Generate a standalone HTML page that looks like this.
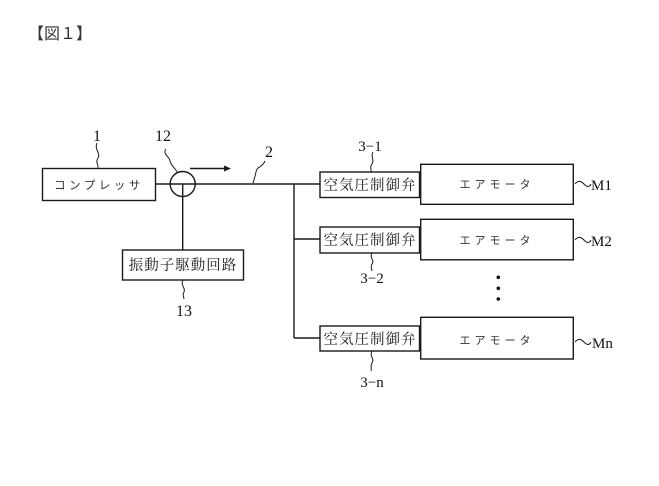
<!DOCTYPE html>
<html><head><meta charset="utf-8">
<style>
html,body{margin:0;padding:0;background:#fff;}
svg{display:block;}
.jp{font-family:"Liberation Serif","Noto Serif CJK SC","Noto Sans CJK JP",serif;fill:#1a1a1a;}
.kt{font-family:"Liberation Sans","Noto Sans CJK JP",sans-serif;fill:#333;}
.num{font-family:"Liberation Serif",serif;fill:#111;}
</style></head>
<body>
<svg width="659" height="486" viewBox="0 0 659 486" xmlns="http://www.w3.org/2000/svg">
<rect width="659" height="486" fill="#fff"/>
<!-- title -->
<text x="28" y="39" class="kt" font-size="16" fill="#111">【図１】</text>

<g stroke="#1a1a1a" fill="none" stroke-width="1.4">
  <!-- compressor box -->
  <rect x="42.5" y="168.5" width="113" height="32"/>
  <!-- main line -->
  <line x1="156" y1="184" x2="320" y2="184"/>
  <!-- circle 12 -->
  <circle cx="182.7" cy="184" r="12.5"/>
  <!-- vertical down to 13 -->
  <line x1="182.7" y1="184" x2="182.7" y2="250"/>
  <!-- box 13 -->
  <rect x="122.5" y="250" width="121" height="30"/>
  <!-- arrow -->
  <line x1="190" y1="168.5" x2="226" y2="168.5"/>
  <!-- branch vertical -->
  <line x1="294" y1="184" x2="294" y2="338"/>
  <line x1="294" y1="239" x2="320" y2="239"/>
  <line x1="294" y1="338" x2="320" y2="338"/>
  <!-- valves -->
  <rect x="320" y="172" width="99.5" height="25.5"/>
  <rect x="320" y="227" width="99.5" height="26"/>
  <rect x="320" y="326" width="99.5" height="25"/>
  <!-- motors -->
  <rect x="420.7" y="164.3" width="152.6" height="40"/>
  <rect x="420.7" y="219.3" width="152.6" height="40.5"/>
  <rect x="420.7" y="317.3" width="152.6" height="41.7"/>
  <!-- leaders -->
  <path d="M97 143 C94 150 101 153 98 158 C95 163 99 165 98 168" stroke-width="1"/>
  <path d="M166 149 C162 154 170 157 170 161 C171 166 176 169 177 172" stroke-width="1"/>
  <path d="M265 161 C262 168 257 166 256 172 C255 177 254 180 253 183" stroke-width="1"/>
  <path d="M373 152 C370 156 375 160 372 164 C369 167 372 170 371 172" stroke-width="1"/>
  <path d="M372 253 C369 258 375 260 372 264 C370 267 372 269 372 271" stroke-width="1"/>
  <path d="M372 351 C369 356 375 359 372 363 C370 366 372 369 371 371" stroke-width="1"/>
  <path d="M183 280 C180 285 186 288 184 292 C182 295 184 297 184 299" stroke-width="1"/>
  <!-- M tildes -->
  <path d="M575 184 C579 179 582 182 585 185 C588 188 590 186 591 184" stroke-width="1"/>
  <path d="M575 240 C579 235 582 238 585 241 C588 244 590 242 591 240" stroke-width="1"/>
  <path d="M575 342 C579 337 582 340 585 343 C588 346 590 344 591 342" stroke-width="1"/>
</g>
<!-- arrowhead -->
<polygon points="224,165.5 231,168.5 224,171.5" fill="#1a1a1a"/>
<!-- dots -->
<circle cx="498.3" cy="277.3" r="1.8" fill="#111"/>
<circle cx="498.3" cy="288.3" r="1.8" fill="#111"/>
<circle cx="498.3" cy="299" r="1.8" fill="#111"/>

<!-- box labels -->
<text x="99" y="189" class="kt" font-size="11.5" text-anchor="middle" letter-spacing="3.5">コンプレッサ</text>
<text x="183" y="270" class="jp" font-size="14.5" text-anchor="middle" letter-spacing="1">振動子駆動回路</text>
<text x="370" y="190" class="jp" font-size="14.5" text-anchor="middle" letter-spacing="1">空気圧制御弁</text>
<text x="370" y="245" class="jp" font-size="14.5" text-anchor="middle" letter-spacing="1">空気圧制御弁</text>
<text x="370" y="344" class="jp" font-size="14.5" text-anchor="middle" letter-spacing="1">空気圧制御弁</text>
<text x="497" y="188" class="kt" font-size="11" text-anchor="middle" letter-spacing="4">エアモータ</text>
<text x="497" y="244" class="kt" font-size="11" text-anchor="middle" letter-spacing="4">エアモータ</text>
<text x="497" y="344" class="kt" font-size="11" text-anchor="middle" letter-spacing="4">エアモータ</text>

<!-- numeric labels -->
<text x="97" y="141" class="num" font-size="16" text-anchor="middle">1</text>
<text x="163" y="141" class="num" font-size="16" text-anchor="middle">12</text>
<text x="269" y="157" class="num" font-size="16" text-anchor="middle">2</text>
<text x="370" y="151" class="num" font-size="15" text-anchor="middle">3−1</text>
<text x="372" y="283" class="num" font-size="15" text-anchor="middle">3−2</text>
<text x="372" y="387" class="num" font-size="15" text-anchor="middle">3−n</text>
<text x="184" y="316" class="num" font-size="16" text-anchor="middle">13</text>
<text x="591" y="190" class="num" font-size="15">M1</text>
<text x="591" y="246" class="num" font-size="15">M2</text>
<text x="592" y="348" class="num" font-size="15">Mn</text>
</svg>
</body></html>
